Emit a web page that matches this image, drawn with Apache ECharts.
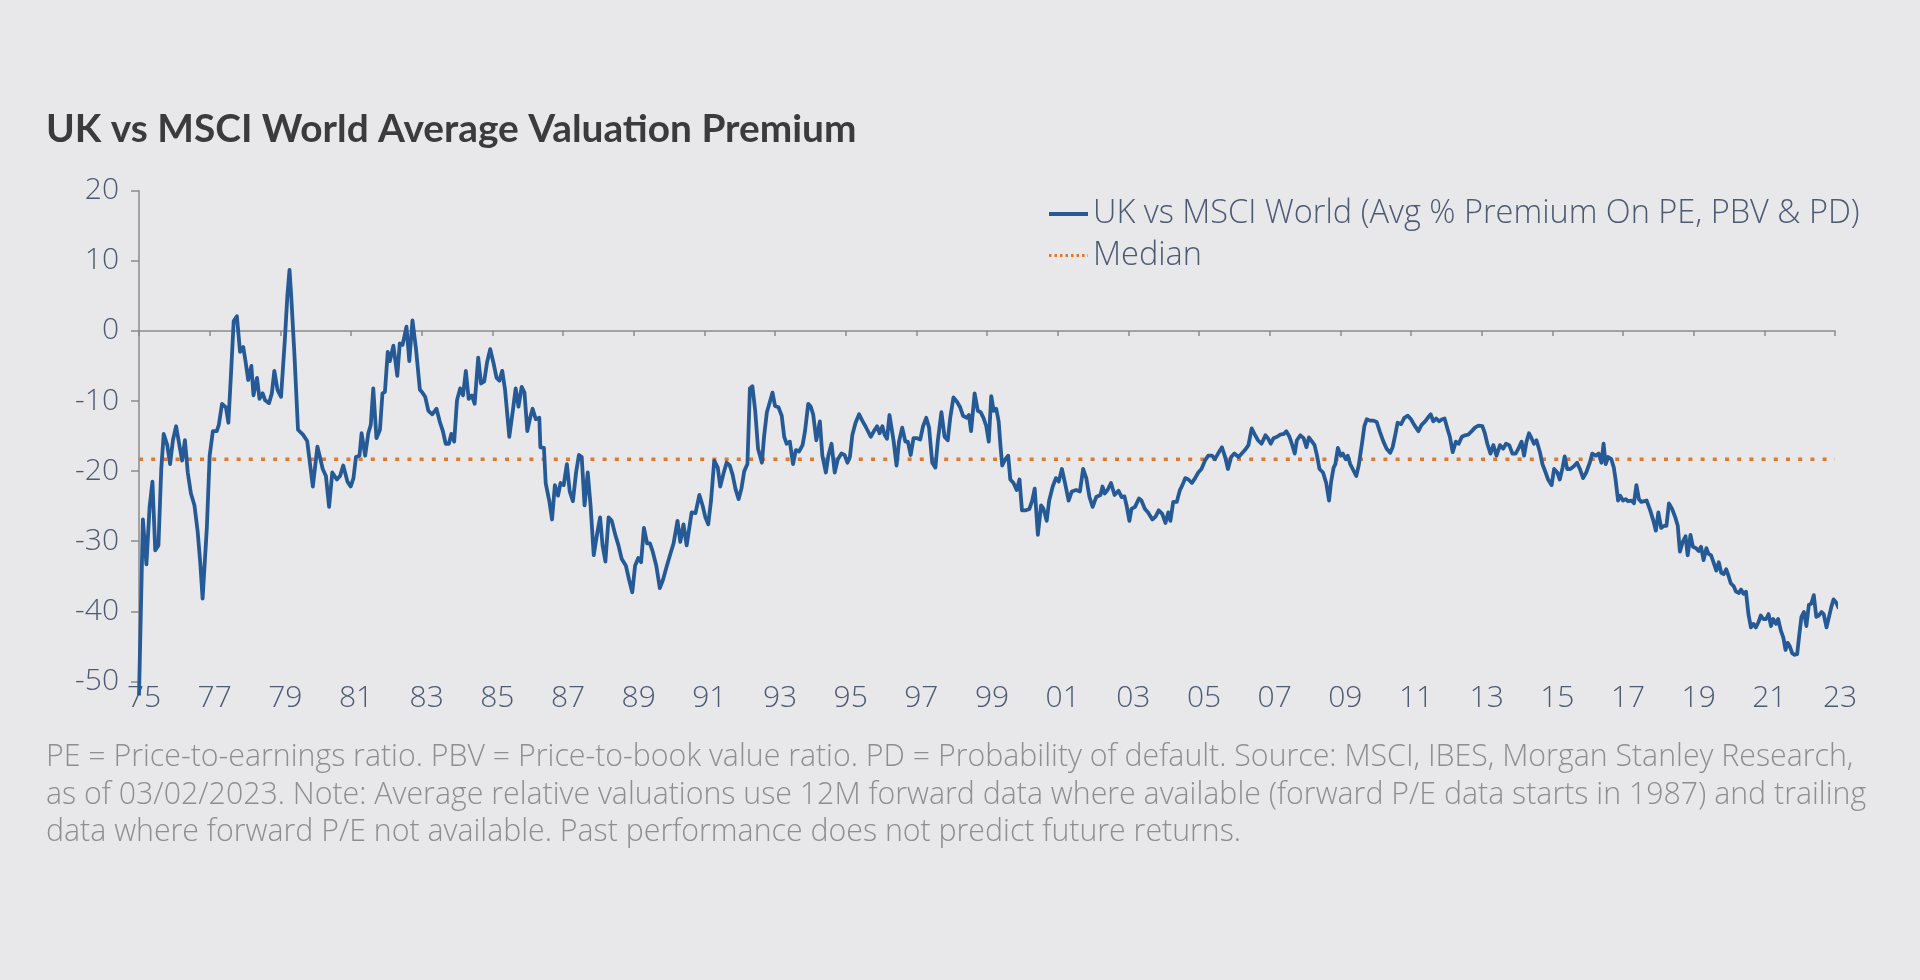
<!DOCTYPE html>
<html><head><meta charset="utf-8">
<script src="https://cdn.jsdelivr.net/npm/echarts@6/dist/echarts.min.js"></script>
<style>html,body{margin:0;padding:0;background:#e8e8ea;}#chart{width:1920px;height:980px;}</style>
</head><body><div id="chart"></div>
<script>
// ---- DATA ----
const titleText = 'UK vs MSCI World Average Valuation Premium';
const seriesName = 'UK vs MSCI World (Avg % Premium On PE, PBV & PD)';
const medianName = 'Median';
const medianValue = -18.3;
const xRange = [1975, 2023];
const yRange = [-50, 20];
const dates = [
1975.00,1975.11,1975.21,1975.30,1975.38,1975.46,1975.55,1975.63,1975.70,1975.80,1975.88,1975.96,
1976.05,1976.15,1976.22,1976.30,1976.38,1976.47,1976.57,1976.66,1976.74,1976.80,1976.92,
1977.00,1977.09,1977.20,1977.26,1977.35,1977.46,1977.53,1977.60,1977.68,1977.77,1977.86,1977.95,
1978.02,1978.09,1978.18,1978.24,1978.34,1978.41,1978.50,1978.57,1978.68,1978.76,1978.83,1978.92,
1979.02,1979.13,1979.20,1979.26,1979.31,1979.40,1979.50,1979.64,1979.76,1979.92,
1980.05,1980.20,1980.29,1980.38,1980.47,1980.60,1980.69,1980.78,1980.90,1980.99,
1981.07,1981.14,1981.24,1981.30,1981.40,1981.49,1981.56,1981.63,1981.72,1981.82,1981.89,1981.96,
1982.04,1982.10,1982.20,1982.31,1982.38,1982.46,1982.57,1982.65,1982.74,1982.84,1982.95,
1983.02,1983.10,1983.19,1983.30,1983.42,1983.51,1983.60,1983.68,1983.77,1983.84,1983.92,
1984.00,1984.09,1984.17,1984.25,1984.33,1984.42,1984.50,1984.60,1984.68,1984.77,1984.85,1984.94,
1985.03,1985.12,1985.20,1985.28,1985.36,1985.48,1985.58,1985.66,1985.74,1985.83,1985.91,1985.99,
1986.07,1986.14,1986.23,1986.33,1986.36,1986.46,1986.51,1986.61,1986.69,1986.77,1986.86,1986.93,
1987.02,1987.11,1987.19,1987.28,1987.37,1987.45,1987.53,1987.61,1987.70,1987.78,1987.87,1987.96,
1988.05,1988.12,1988.20,1988.29,1988.38,1988.48,1988.57,1988.66,1988.78,1988.87,1988.96,
1989.04,1989.13,1989.21,1989.29,1989.38,1989.46,1989.54,1989.64,1989.74,1989.83,1989.94,
1990.04,1990.13,1990.24,1990.32,1990.41,1990.50,1990.64,1990.75,1990.86,1990.95,
1991.03,1991.11,1991.19,1991.28,1991.38,1991.45,1991.55,1991.63,1991.72,1991.80,1991.88,1991.97,
1992.05,1992.13,1992.22,1992.29,1992.36,1992.44,1992.52,1992.63,1992.69,1992.77,1992.85,1992.93,
1993.00,1993.10,1993.19,1993.26,1993.33,1993.42,1993.51,1993.59,1993.68,1993.78,1993.85,1993.94,
1994.01,1994.08,1994.17,1994.27,1994.34,1994.44,1994.51,1994.60,1994.69,1994.78,1994.88,1994.97,
1995.05,1995.12,1995.19,1995.28,1995.38,1995.47,1995.56,1995.71,1995.80,1995.89,1995.96,
1996.04,1996.10,1996.17,1996.24,1996.36,1996.44,1996.51,1996.60,1996.69,1996.76,1996.84,1996.92,
1997.02,1997.11,1997.19,1997.28,1997.36,1997.45,1997.54,1997.61,1997.71,1997.80,1997.89,1997.96,
1998.05,1998.15,1998.24,1998.32,1998.43,1998.49,1998.55,1998.65,1998.74,1998.82,1998.90,1998.98,
1999.05,1999.12,1999.19,1999.26,1999.33,1999.38,1999.43,1999.52,1999.60,1999.66,1999.75,1999.84,1999.92,1999.99,
2000.10,2000.20,2000.28,2000.35,2000.44,2000.53,2000.60,2000.69,2000.76,2000.86,2000.95,
2001.03,2001.12,2001.22,2001.31,2001.40,2001.52,2001.63,2001.72,2001.81,2001.90,2001.99,
2002.09,2002.21,2002.27,2002.33,2002.41,2002.51,2002.61,2002.72,2002.81,2002.89,2002.95,
2003.03,2003.09,2003.19,2003.30,2003.37,2003.47,2003.56,2003.68,2003.77,2003.86,2003.96,
2004.05,2004.13,2004.19,2004.27,2004.37,2004.46,2004.53,2004.61,2004.70,2004.80,2004.89,2004.98,
2005.07,2005.17,2005.26,2005.37,2005.45,2005.54,2005.65,2005.74,2005.82,2005.91,
2006.00,2006.12,2006.21,2006.30,2006.40,2006.49,2006.58,2006.67,2006.77,2006.88,2006.95,
2007.03,2007.11,2007.21,2007.30,2007.40,2007.47,2007.56,2007.64,2007.71,2007.77,2007.87,2007.96,
2008.04,2008.11,2008.20,2008.27,2008.34,2008.41,2008.51,2008.60,2008.68,2008.74,2008.81,2008.86,2008.93,
2009.01,2009.07,2009.15,2009.21,2009.28,2009.35,2009.45,2009.52,2009.62,2009.68,2009.75,2009.84,2009.94,
2010.03,2010.12,2010.22,2010.31,2010.41,2010.48,2010.56,2010.62,2010.72,2010.81,2010.91,
2011.00,2011.09,2011.21,2011.30,2011.40,2011.49,2011.56,2011.63,2011.71,2011.80,2011.88,2011.95,
2012.04,2012.10,2012.18,2012.27,2012.35,2012.44,2012.53,2012.62,2012.72,2012.81,2012.91,
2013.02,2013.09,2013.16,2013.25,2013.33,2013.42,2013.52,2013.61,2013.69,2013.78,2013.87,2013.96,
2014.04,2014.13,2014.20,2014.27,2014.34,2014.41,2014.48,2014.55,2014.65,2014.72,2014.81,2014.88,2014.98,
2015.05,2015.14,2015.21,2015.29,2015.35,2015.42,2015.51,2015.61,2015.70,2015.78,2015.87,2015.96,
2016.06,2016.13,2016.23,2016.31,2016.39,2016.45,2016.51,2016.58,2016.67,2016.74,2016.79,2016.86,2016.92,
2017.00,2017.08,2017.14,2017.24,2017.31,2017.38,2017.45,2017.52,2017.67,2017.77,2017.86,2017.93,
2018.00,2018.08,2018.17,2018.23,2018.30,2018.39,2018.48,2018.55,2018.61,2018.69,2018.77,2018.83,2018.91,2018.98,
2019.07,2019.14,2019.21,2019.28,2019.36,2019.42,2019.49,2019.56,2019.64,2019.71,2019.78,2019.85,2019.92,2019.99,
2020.05,2020.13,2020.20,2020.28,2020.34,2020.41,2020.48,2020.55,2020.62,2020.69,2020.76,2020.83,2020.90,2020.97,
2021.05,2021.12,2021.19,2021.25,2021.33,2021.39,2021.47,2021.54,2021.60,2021.66,2021.72,2021.79,2021.86,2021.93,2021.99,
2022.05,2022.12,2022.19,2022.26,2022.33,2022.40,2022.47,2022.54,2022.62,2022.68,2022.76,2022.83,2022.90,2022.96,
2023.04,2023.11
];
const premium = [
-52.0,-26.9,-33.3,-25.1,-21.5,-31.3,-30.6,-19.7,-14.7,-16.3,-19.0,-15.6,
-13.6,-16.5,-18.5,-15.6,-20.2,-23.2,-24.9,-28.6,-33.5,-38.2,-28.1,
-17.8,-14.3,-14.3,-13.4,-10.4,-10.9,-13.1,-6.5,1.4,2.1,-3.0,-2.3,
-4.5,-7.0,-5.0,-9.2,-6.7,-9.7,-8.9,-9.9,-10.3,-8.9,-5.7,-8.4,
-9.4,-1.1,5.1,8.7,4.8,-3.5,-14.1,-14.8,-15.7,-22.2,
-16.5,-19.7,-20.7,-25.1,-20.2,-21.2,-20.7,-19.2,-21.5,-22.2,
-21.0,-18.0,-17.8,-14.6,-17.8,-14.6,-13.4,-8.2,-15.3,-14.1,-8.9,-8.7,
-3.0,-4.3,-2.1,-6.4,-1.8,-2.0,0.6,-4.3,1.5,-2.6,-8.4,
-8.8,-9.4,-11.4,-11.9,-11.1,-12.9,-14.3,-16.1,-16.1,-14.7,-15.8,
-9.9,-8.2,-9.2,-5.7,-9.7,-9.2,-10.4,-3.8,-7.5,-7.2,-4.5,-2.6,
-4.5,-6.7,-7.1,-5.7,-8.4,-15.1,-11.4,-8.2,-10.8,-8.0,-8.8,-14.3,
-12.4,-11.1,-12.6,-12.4,-16.6,-16.7,-21.7,-24.2,-26.9,-22.0,-23.5,-21.7,
-22.0,-19.0,-22.9,-24.3,-20.2,-17.7,-18.0,-24.9,-20.2,-24.9,-32.0,-29.1,
-26.6,-30.6,-32.9,-26.6,-27.1,-29.1,-30.6,-32.5,-33.5,-35.5,-37.3,
-33.5,-32.4,-33.0,-28.1,-30.3,-30.3,-31.5,-33.5,-36.7,-35.5,-33.5,
-31.8,-30.3,-27.1,-30.1,-27.6,-30.6,-25.9,-26.0,-23.4,-24.9,
-26.6,-27.6,-24.2,-18.5,-19.5,-22.2,-20.2,-18.8,-19.2,-20.5,-22.5,-24.0,
-22.5,-20.0,-19.0,-8.2,-7.9,-11.4,-16.8,-18.8,-15.1,-11.6,-10.2,-8.8,
-10.7,-10.9,-12.1,-15.1,-16.1,-15.8,-19.0,-17.0,-17.2,-16.3,-14.3,-10.4,
-10.8,-11.9,-15.6,-12.9,-17.8,-20.2,-17.8,-16.1,-20.2,-18.3,-17.5,-17.7,
-18.8,-18.0,-14.8,-13.1,-11.9,-12.8,-13.6,-15.1,-14.3,-13.6,-14.6,
-13.6,-14.8,-15.4,-12.0,-15.8,-19.2,-15.8,-13.8,-15.8,-15.8,-17.7,-15.3,
-15.3,-15.5,-13.6,-12.4,-13.8,-18.8,-19.5,-15.6,-11.6,-15.1,-15.6,-12.4,
-9.5,-10.1,-10.9,-12.1,-12.4,-12.0,-14.3,-8.9,-11.4,-11.6,-12.4,-13.6,
-15.8,-9.3,-11.4,-11.1,-12.9,-16.3,-19.2,-18.3,-17.8,-21.2,-21.7,-22.7,-21.2,-25.6,
-25.6,-25.4,-24.2,-22.5,-29.1,-24.9,-25.4,-27.1,-24.2,-22.2,-21.0,
-21.5,-19.7,-22.0,-24.2,-22.9,-22.7,-22.9,-19.7,-21.0,-23.7,-25.1,
-23.7,-23.4,-22.2,-23.2,-22.7,-21.7,-23.4,-22.8,-23.7,-23.6,-24.9,
-27.1,-25.4,-25.1,-23.9,-24.2,-25.4,-25.9,-26.9,-26.5,-25.6,-26.1,
-27.4,-25.9,-27.1,-24.4,-24.4,-22.7,-22.0,-21.0,-21.2,-21.7,-21.0,-20.2,
-19.7,-18.5,-17.8,-17.8,-18.3,-17.5,-16.6,-18.0,-19.7,-18.0,
-17.5,-18.0,-17.5,-17.0,-16.3,-13.9,-14.8,-15.6,-16.1,-14.9,-15.3,
-16.1,-15.3,-15.1,-14.8,-14.7,-14.3,-15.1,-16.3,-17.5,-15.6,-14.9,-15.3,
-16.6,-15.2,-15.8,-16.3,-17.8,-19.7,-20.2,-21.7,-24.2,-21.5,-19.5,-19.0,-16.7,
-17.8,-17.5,-18.3,-17.8,-19.0,-19.7,-20.7,-19.2,-15.8,-13.6,-12.6,-12.8,-12.8,
-13.0,-14.4,-15.8,-16.8,-17.4,-16.6,-14.7,-13.1,-13.3,-12.4,-12.1,
-12.6,-13.4,-14.3,-13.4,-12.9,-12.3,-11.9,-12.9,-12.5,-12.9,-12.6,-12.5,
-14.1,-15.1,-17.3,-15.8,-16.1,-15.1,-14.9,-14.8,-14.3,-13.8,-13.5,
-13.6,-14.6,-16.1,-17.5,-16.3,-17.8,-16.3,-16.8,-16.1,-16.3,-17.5,-17.5,
-16.8,-15.8,-17.8,-15.8,-14.6,-15.3,-16.1,-15.6,-17.3,-19.0,-20.2,-21.2,-22.0,
-19.7,-20.2,-21.2,-19.5,-17.9,-19.7,-19.7,-19.3,-18.8,-19.7,-21.0,-20.2,
-18.8,-17.5,-17.8,-17.5,-18.8,-16.1,-19.0,-18.0,-18.3,-19.5,-21.2,-24.2,-23.5,
-24.2,-24.0,-24.3,-24.2,-24.6,-22.0,-24.0,-24.4,-24.2,-25.6,-27.1,-28.5,
-25.9,-28.1,-27.8,-27.8,-24.6,-25.4,-26.6,-27.8,-31.5,-30.1,-29.3,-32.0,-29.1,-30.8,
-31.0,-31.4,-30.8,-32.7,-31.0,-31.8,-32.0,-33.0,-34.2,-33.0,-34.5,-34.7,-34.0,-35.0,
-36.0,-36.4,-37.2,-37.4,-36.9,-37.5,-37.2,-40.4,-42.3,-41.8,-42.3,-41.6,-40.6,-41.1,
-41.1,-40.4,-42.1,-41.1,-41.8,-41.1,-42.8,-43.8,-45.5,-44.5,-45.0,-46.0,-46.2,-46.1,-43.3,
-40.8,-40.1,-42.1,-39.1,-38.9,-37.7,-40.8,-40.6,-40.1,-40.4,-42.3,-40.8,-39.3,-38.3,
-38.8,-39.6
];
const footnoteLines = [
'PE = Price-to-earnings ratio. PBV = Price-to-book value ratio. PD = Probability of default. Source: MSCI, IBES, Morgan Stanley Research,',
'as of 03/02/2023. Note: Average relative valuations use 12M forward data where available (forward P/E data starts in 1987) and trailing',
'data where forward P/E not available. Past performance does not predict future returns.'
];

// ---- CHART ----
const lineData = dates.map((d, i) => [d, premium[i]]);
const medianData = xRange.map(x => [x, medianValue]);
const axisColor = '#8b8b8d';
const labelColor = '#4c5a72';
const font = '"Open Sans", sans-serif';

const chart = echarts.init(document.getElementById('chart'), null, {renderer: 'canvas'});
chart.setOption({
  backgroundColor: '#e8e8ea',
  animation: false,
  title: {
    text: titleText, left: 46, top: 110, padding: 0,
    textStyle: {fontFamily: 'Lato, sans-serif', fontSize: 38.8, fontWeight: 'bold', color: '#3b3b3d'}
  },
  legend: {
    orient: 'vertical', left: 1047, top: 197, padding: 0, itemWidth: 39, itemHeight: 14, itemGap: 7.6,
    itemStyle: {opacity: 0},
    textStyle: {fontFamily: font, fontSize: 32.5, fontWeight: 300, color: labelColor, lineHeight: 34},
    data: [
      {name: seriesName, lineStyle: {width: 4}},
      {name: medianName, lineStyle: {type: [2.5, 3], width: 3}}
    ]
  },
  grid: {left: 139, right: 85, top: 190.7, bottom: 298.6, outerBoundsMode: 'none'},
  xAxis: [{
    type: 'value', min: xRange[0], max: xRange[1], interval: 2,
    axisLine: {show: true, onZero: true, lineStyle: {color: axisColor, width: 1.5}},
    axisTick: {show: true, length: 5, lineStyle: {color: axisColor, width: 1.5}},
    axisLabel: {show: false}, splitLine: {show: false}
  }, {
    type: 'value', min: xRange[0], max: xRange[1], interval: 2, position: 'bottom',
    axisLine: {show: false, onZero: false}, axisTick: {show: false}, splitLine: {show: false},
    axisLabel: {show: true, margin: 2, padding: [0, 0, 0, 10], fontFamily: font, fontSize: 30, fontWeight: 300, color: labelColor,
      formatter: v => String(Math.round(v) % 100).padStart(2, '0')}
  }],
  yAxis: {
    type: 'value', min: yRange[0], max: yRange[1], interval: 10,
    axisLine: {show: true, onZero: false, lineStyle: {color: axisColor, width: 1.5}},
    axisTick: {show: true, length: 8, lineStyle: {color: axisColor, width: 1.5}},
    axisLabel: {margin: 20, padding: [0, 0, 7, 0], fontFamily: font, fontSize: 30, fontWeight: 300, color: labelColor},
    splitLine: {show: false}
  },
  series: [{
    name: seriesName, type: 'line', data: lineData, xAxisIndex: 0,
    symbol: 'none', clip: false, smooth: false,
    lineStyle: {color: '#255a96', width: 3.8, join: 'round'}, itemStyle: {color: '#255a96'}, z: 3
  }, {
    name: medianName, type: 'line', data: medianData, xAxisIndex: 0,
    symbol: 'none', clip: false,
    lineStyle: {color: '#e0782f', width: 3.5, type: [4, 8.2]}, itemStyle: {color: '#e0782f'}, z: 2
  }],
  graphic: [{
    type: 'text', left: 46, top: 739,
    style: {text: footnoteLines.join('\n'), font: '300 30.3px "Open Sans", sans-serif', fill: '#8e8e90', lineHeight: 37.5}
  }]
});
</script></body></html>
